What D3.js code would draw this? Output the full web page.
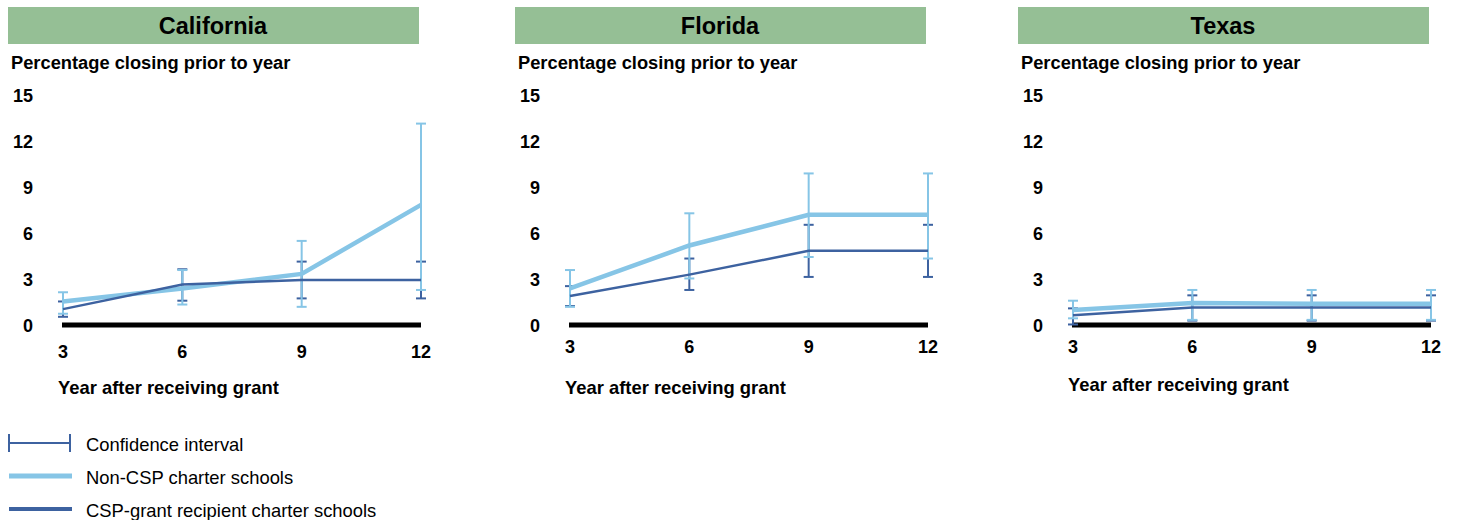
<!DOCTYPE html>
<html>
<head>
<meta charset="utf-8">
<script src="https://cdn.jsdelivr.net/npm/d3@7"></script>
<style>
  body { margin: 0; background: #fff; }
  svg text { font-family: "Liberation Sans", Arial, sans-serif; fill: #000; }
</style>
</head>
<body>
<div id="chart"></div>
<script>
// data
const states = ["California", "Florida", "Texas"];
const years = [3, 6, 9, 12];
const yTicks = [0, 3, 6, 9, 12, 15];

// Non-CSP charter schools (light)
const nonCsp = [
    [1.6, 2.45, 3.4, 7.9],
    [2.45, 5.25, 7.25, 7.25],
    [1.05, 1.5, 1.45, 1.45]
];
const nonCspLow = [
    [0.8, 1.4, 1.25, 2.35],
    [1.25, 3.1, 4.5, 4.4],
    [0.5, 0.4, 0.4, 0.4]
];
const nonCspHigh = [
    [2.2, 3.65, 5.55, 13.2],
    [3.65, 7.35, 9.95, 9.95],
    [1.65, 2.35, 2.35, 2.35]
];

// CSP-grant recipient charter schools (dark)
const csp = [
    [1.1, 2.7, 3.0, 3.0],
    [1.95, 3.35, 4.9, 4.9],
    [0.7, 1.2, 1.2, 1.2]
];
const cspLow = [
    [0.6, 1.65, 1.8, 1.8],
    [1.3, 2.35, 3.2, 3.2],
    [0.1, 0.35, 0.35, 0.35]
];
const cspHigh = [
    [1.6, 3.7, 4.2, 4.2],
    [2.6, 4.4, 6.6, 6.6],
    [1.15, 2.0, 2.0, 2.0]
];

const legendLabels = ["Confidence interval", "Non-CSP charter schools", "CSP-grant recipient charter schools"];

const LIGHT = "#86c5e6";
const DARK = "#3d62a0";
const GREEN = "#95bf95";

const W = 1466, H = 520;
const panelX = [0, 507, 1010];
const tickLabelY = [352, 347, 347];
const axisTitleY = [387, 387, 384];

const svg = d3.select("#chart").append("svg")
    .attr("width", W)
    .attr("height", H);

const y = d3.scaleLinear().domain([0, 15]).range([326, 96]);

states.forEach((state, i) => {
    const g = svg.append("g").attr("transform", "translate(" + panelX[i] + ",0)");
    const x = d3.scaleLinear().domain([3, 12]).range([63, 421]);

    // title band
    g.append("rect")
        .attr("x", 8).attr("y", 7)
        .attr("width", 411).attr("height", 37)
        .attr("fill", GREEN);
    g.append("text")
        .attr("x", 213).attr("y", 26)
        .attr("text-anchor", "middle")
        .attr("dominant-baseline", "central")
        .style("font-size", "23.5px")
        .style("font-weight", "bold")
        .text(state);

    g.append("text")
        .attr("x", 11).attr("y", 69)
        .style("font-size", "18.3px")
        .style("font-weight", "bold")
        .text("Percentage closing prior to year");

    // y tick labels
    g.selectAll(".ytick").data(yTicks).enter().append("text")
        .attr("x", 33)
        .attr("y", d => y(d))
        .attr("text-anchor", "end")
        .attr("dominant-baseline", "central")
        .style("font-size", "18px")
        .style("font-weight", "bold")
        .text(d => d);

    // x tick labels
    g.selectAll(".xtick").data(years).enter().append("text")
        .attr("x", d => x(d))
        .attr("y", tickLabelY[i])
        .attr("text-anchor", "middle")
        .attr("dominant-baseline", "central")
        .style("font-size", "18px")
        .style("font-weight", "bold")
        .text(d => d);

    g.append("text")
        .attr("x", 58).attr("y", axisTitleY[i])
        .attr("dominant-baseline", "central")
        .style("font-size", "18.4px")
        .style("font-weight", "bold")
        .text("Year after receiving grant");

    // baseline
    g.append("line")
        .attr("x1", x(3) - 1).attr("x2", x(12))
        .attr("y1", y(0) - 1).attr("y2", y(0) - 1)
        .attr("stroke", "#000")
        .attr("stroke-width", 5);

    function errorBars(lo, hi, color) {
        const eb = g.append("g")
            .attr("stroke", color)
            .attr("stroke-width", 2)
            .attr("fill", "none");
        years.forEach((yr, j) => {
            const cx = x(yr);
            eb.append("line")
                .attr("x1", cx).attr("x2", cx)
                .attr("y1", y(lo[j])).attr("y2", y(hi[j]));
            eb.append("line")
                .attr("x1", cx - 5).attr("x2", cx + 5)
                .attr("y1", y(lo[j])).attr("y2", y(lo[j]));
            eb.append("line")
                .attr("x1", cx - 5).attr("x2", cx + 5)
                .attr("y1", y(hi[j])).attr("y2", y(hi[j]));
        });
    }

    errorBars(cspLow[i], cspHigh[i], DARK);
    errorBars(nonCspLow[i], nonCspHigh[i], LIGHT);

    const line = d3.line()
        .x((d, j) => x(years[j]))
        .y(d => y(d));

    g.append("path")
        .datum(nonCsp[i])
        .attr("fill", "none")
        .attr("stroke", LIGHT)
        .attr("stroke-width", 4.5)
        .attr("d", line);

    g.append("path")
        .datum(csp[i])
        .attr("fill", "none")
        .attr("stroke", DARK)
        .attr("stroke-width", 2.5)
        .attr("d", line);
});

// legend
const legend = svg.append("g");
const legendY = [443, 476, 509];

legend.append("line")
    .attr("x1", 9).attr("x2", 70)
    .attr("y1", legendY[0]).attr("y2", legendY[0])
    .attr("stroke", DARK).attr("stroke-width", 2);
[9, 70].forEach(lx => {
    legend.append("line")
        .attr("x1", lx).attr("x2", lx)
        .attr("y1", legendY[0] - 9).attr("y2", legendY[0] + 9)
        .attr("stroke", DARK).attr("stroke-width", 2);
});
legend.append("line")
    .attr("x1", 9).attr("x2", 72)
    .attr("y1", legendY[1]).attr("y2", legendY[1])
    .attr("stroke", LIGHT).attr("stroke-width", 5);
legend.append("line")
    .attr("x1", 9).attr("x2", 72)
    .attr("y1", legendY[2]).attr("y2", legendY[2])
    .attr("stroke", DARK).attr("stroke-width", 4);

legend.selectAll(".ltext").data(legendLabels).enter().append("text")
    .attr("x", 86)
    .attr("y", (d, k) => legendY[k] + 1)
    .attr("dominant-baseline", "central")
    .style("font-size", "18.4px")
    .text(d => d);
</script>
</body>
</html>
